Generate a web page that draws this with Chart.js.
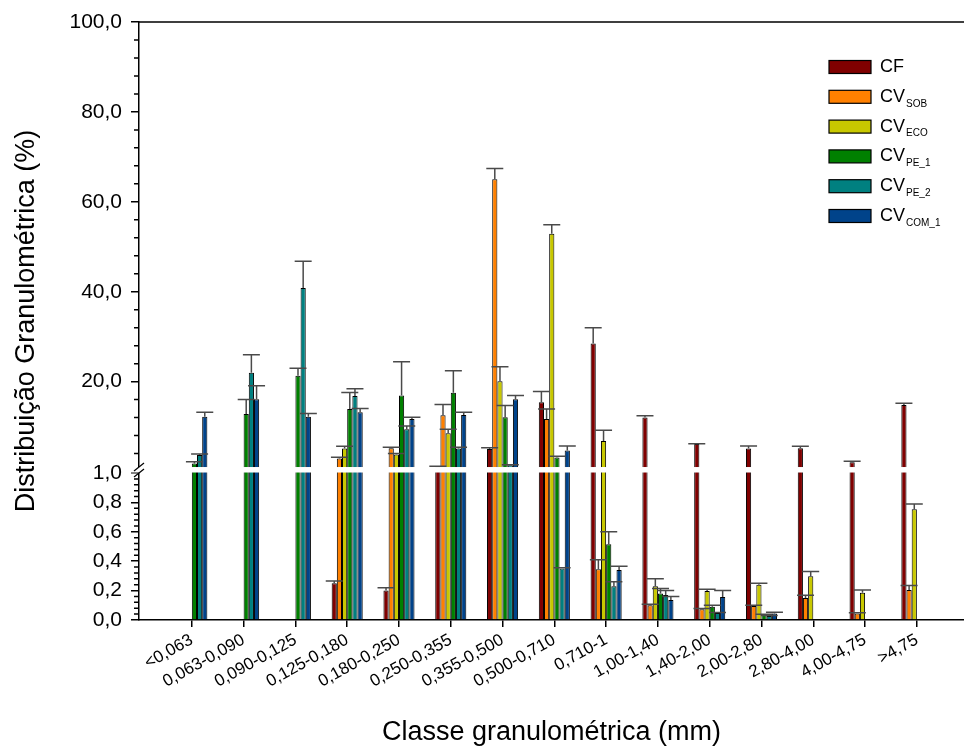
<!DOCTYPE html>
<html lang="pt">
<head>
<meta charset="utf-8">
<script src="https://cdn.jsdelivr.net/npm/chart.js@4.4.0/dist/chart.umd.min.js"></script>
<style>
  html, body { margin: 0; background: #fff; }
  #wrap { width: 964px; height: 749px; position: relative; }
</style>
</head>
<body>
<div id="wrap"><canvas id="grafico"></canvas></div>
<script>
// classes granulométricas (mm)
const classes = ['<0,063', '0,063-0,090', '0,090-0,125', '0,125-0,180', '0,180-0,250',
  '0,250-0,355', '0,355-0,500', '0,500-0,710', '0,710-1', '1,00-1,40', '1,40-2,00',
  '2,00-2,80', '2,80-4,00', '4,00-4,75', '>4,75'];

// nome e subscrito de cada série
const nomes = [['CF', ''], ['CV', 'SOB'], ['CV', 'ECO'], ['CV', 'PE_1'], ['CV', 'PE_2'], ['CV', 'COM_1']];
const cores = ['#800000', '#FF8000', '#C8C800', '#008000', '#008080', '#00438A'];

// distribuição (%) e desvio de cada série
const cf       = [0, 0, 0, 0.25, 0.20, 1.1, 5.0, 15.4, 28.5, 12.0, 6.1, 5.1, 5.2, 2.05, 14.8];
const cfErro   = [0, 0, 0, 0.015, 0.02, 0.1, 0.3, 2.4, 3.5, 0.4, 0.1, 0.6, 0.4, 0.25, 0.4];
const sob      = [0, 0, 0, 2.9, 5.2, 12.5, 65.0, 11.7, 0.345, 0.10, 0.073, 0.095, 0.15, 0.045, 0.204];
const sobErro  = [0, 0, 0, 0.3, 0.2, 2.4, 2.4, 2.2, 0.065, 0.007, 0.005, 0.005, 0.018, 0.005, 0.03];
const eco      = [0, 0, 0, 5.1, 3.8, 8.5, 20.1, 52.9, 6.8, 0.23, 0.197, 0.24, 0.297, 0.186, 0.753];
const ecoErro  = [0, 0, 0, 0.5, 0.2, 0.9, 3.2, 2.0, 2.4, 0.05, 0.013, 0.01, 0.033, 0.018, 0.037];
const pe1      = [1.8, 12.8, 21.3, 13.9, 16.9, 17.5, 12.1, 3.1, 0.515, 0.18, 0.09, 0.034, 0, 0, 0];
const pe1Erro  = [0.4, 3.2, 1.7, 3.7, 7.5, 4.9, 2.6, 0.3, 0.085, 0.035, 0.01, 0.005, 0, 0, 0];
const pe2      = [3.7, 22.0, 40.8, 16.8, 9.4, 5.1, 1.4, 0.35, 0.23, 0.17, 0.048, 0.027, 0, 0, 0];
const pe2Erro  = [0.2, 4.0, 6.0, 1.6, 0.7, 0.3, 0.1, 0.005, 0.03, 0.03, 0.003, 0.003, 0, 0, 0];
const com1     = [12.2, 16.1, 12.2, 13.2, 11.7, 12.6, 16.1, 4.7, 0.34, 0.136, 0.156, 0.045, 0, 0, 0];
const com1Erro = [1.0, 3.0, 0.7, 0.8, 0.4, 0.6, 0.8, 1.0, 0.025, 0.024, 0.044, 0.007, 0, 0, 0];

const valores = [cf, sob, eco, pe1, pe2, com1];
const erros = [cfErro, sobErro, ecoErro, pe1Erro, pe2Erro, com1Erro];

// eixo y: 0-1 embaixo, 1-100 em cima
const ticksY = [0, 0.2, 0.4, 0.6, 0.8, 1.0, 20, 40, 60, 80, 100];
const QUEBRA = 1;
const PARTE_BAIXA = 0.2458;
const PARTE_VAO = 0.01;

class EixoQuebrado extends Chart.LinearScale {
  faixas() {
    const h = this.bottom - this.top;
    const baixo = h * PARTE_BAIXA, vao = h * PARTE_VAO;
    return { baixo, vao, alto: h - baixo - vao };
  }
  getPixelForValue(v) {
    const f = this.faixas();
    if (v <= QUEBRA) return this.bottom - (v - this.min) / (QUEBRA - this.min) * f.baixo;
    return this.bottom - f.baixo - f.vao - (v - QUEBRA) / (this.max - QUEBRA) * f.alto;
  }
  getValueForPixel(p) {
    const f = this.faixas();
    const d = this.bottom - p;
    if (d <= f.baixo) return this.min + d / f.baixo * (QUEBRA - this.min);
    return QUEBRA + Math.max(0, d - f.baixo - f.vao) / f.alto * (this.max - QUEBRA);
  }
}
EixoQuebrado.id = 'eixoQuebrado';
EixoQuebrado.defaults = Chart.LinearScale.defaults;
Chart.register(EixoQuebrado);

const FONTE = '"Liberation Sans", Arial, sans-serif';
Chart.defaults.font.family = FONTE;
Chart.defaults.color = '#000';

// vão do eixo, barras de erro, ticks menores, borda superior e legenda
const extras = {
  id: 'extras',
  afterDatasetsDraw(chart) {
    const { ctx, chartArea: a, scales: { y } } = chart;
    const yBaixo = y.getPixelForValue(QUEBRA);
    const yAlto = yBaixo - (y.bottom - y.top) * PARTE_VAO;
    ctx.save();
    ctx.fillStyle = '#fff';
    ctx.fillRect(a.left - 9, yAlto, a.right - a.left + 9, yBaixo - yAlto - 0.5);

    ctx.strokeStyle = '#4a4a4a';
    ctx.lineWidth = 1.5;
    chart.data.datasets.forEach((ds, i) => {
      chart.getDatasetMeta(i).data.forEach((barra, j) => {
        const v = ds.data[j];
        if (!v) return;
        const yt = y.getPixelForValue(v + ds.erro[j]);
        ctx.beginPath();
        ctx.moveTo(barra.x, barra.y);
        ctx.lineTo(barra.x, yt);
        ctx.moveTo(barra.x - 8.5, yt);
        ctx.lineTo(barra.x + 8.5, yt);
        ctx.stroke();
      });
    });

    // marcas da quebra
    ctx.strokeStyle = '#000';
    ctx.lineWidth = 1.3;
    [yBaixo, yAlto].forEach(p => {
      ctx.beginPath();
      ctx.moveTo(a.left - 5, p + 4);
      ctx.lineTo(a.left + 5, p - 4);
      ctx.stroke();
    });
    ctx.restore();
  },
  afterDraw(chart) {
    const { ctx, chartArea: a, scales: { y } } = chart;
    ctx.save();
    ctx.strokeStyle = '#000';
    ctx.lineWidth = 1.5;
    ctx.beginPath();
    ctx.moveTo(a.left, a.top);
    ctx.lineTo(a.right, a.top);
    // ticks menores
    const menor = p => { ctx.moveTo(a.left - 5, p); ctx.lineTo(a.left, p); };
    for (let v = 4; v < 100; v += 4) if (v % 20) menor(y.getPixelForValue(v));
    for (let k = 1; k < 25; k++) if (k % 5) menor(y.getPixelForValue(k * 0.04));
    ctx.stroke();

    // legenda
    nomes.forEach(([nome, sub], i) => {
      const cy = 67 + i * 29.8;
      ctx.fillStyle = cores[i];
      ctx.fillRect(829, cy - 6.5, 42, 13);
      ctx.lineWidth = 1.2;
      ctx.strokeRect(829, cy - 6.5, 42, 13);
      ctx.fillStyle = '#000';
      ctx.textBaseline = 'middle';
      ctx.font = '18px ' + FONTE;
      ctx.fillText(nome, 880, cy);
      if (sub) {
        const w = ctx.measureText(nome).width;
        ctx.font = '10px ' + FONTE;
        ctx.fillText(sub, 880 + w + 1, cy + 7);
      }
    });
    ctx.restore();
  }
};

new Chart(document.getElementById('grafico'), {
  type: 'bar',
  data: {
    labels: classes.map((_, i) => i),
    datasets: valores.map((serie, i) => ({
      label: nomes[i].join(''),
      data: serie,
      erro: erros[i],
      backgroundColor: cores[i],
      borderColor: '#000',
      borderWidth: 1,
      categoryPercentage: 0.6,
      barPercentage: 1
    }))
  },
  options: {
    responsive: true,
    maintainAspectRatio: false,
    animation: false,
    layout: { padding: { top: 22, right: 0, left: 0, bottom: 0 } },
    plugins: { legend: { display: false }, tooltip: { enabled: false } },
    scales: {
      x: {
        type: 'linear',
        offset: false,
        min: -1.02,
        max: 14.91,
        afterBuildTicks: s => { s.ticks = classes.map((_, i) => ({ value: i })); },
        afterFit: s => { s.height = 129; },
        grid: { offset: false, drawOnChartArea: false, tickLength: 7, color: '#000', lineWidth: 1.5 },
        border: { color: '#000', width: 1.5 },
        ticks: {
          autoSkip: false, minRotation: 29, maxRotation: 29, padding: 3,
          font: { size: 17 },
          callback: v => classes[v]
        },
        title: { display: true, text: 'Classe granulométrica (mm)', font: { size: 27 }, padding: { bottom: 0 } }
      },
      y: {
        type: 'eixoQuebrado',
        min: 0,
        max: 100,
        afterBuildTicks: s => { s.ticks = ticksY.map(v => ({ value: v })); },
        afterFit: s => { s.width = 139; },
        grid: { drawOnChartArea: false, tickLength: 8, color: '#000', lineWidth: 1.5 },
        border: { color: '#000', width: 1.5 },
        ticks: {
          autoSkip: false, padding: 9,
          font: { size: 21 },
          callback: v => v.toFixed(1).replace('.', ',')
        },
        title: { display: true, text: 'Distribuição Granulométrica (%)', font: { size: 27 }, padding: { top: 10 } }
      }
    }
  },
  plugins: [extras]
});
</script>
</body>
</html>
